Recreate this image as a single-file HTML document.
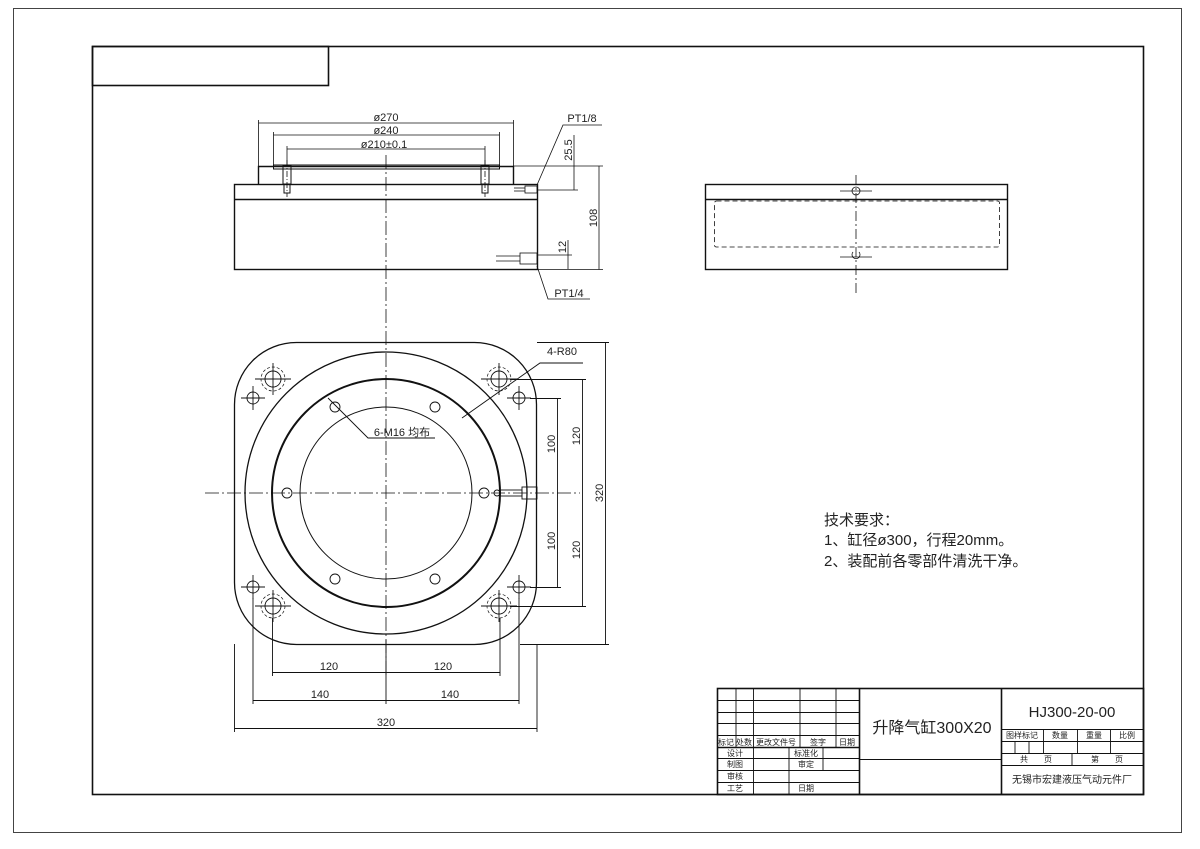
<!DOCTYPE html>
<html><head><meta charset="utf-8"><style>
html,body{margin:0;padding:0;background:#fff}
svg{display:block}
text{font-family:"Liberation Sans","Noto Sans CJK SC",sans-serif;fill:#222}
</style></head><body>
<svg width="1200" height="849" viewBox="0 0 1200 849" xmlns="http://www.w3.org/2000/svg">
<g fill="none" stroke="#111">
<rect x="13.5" y="8.5" width="1168" height="824" stroke="#444" stroke-width="1"/>
<rect x="92.5" y="46.5" width="1051" height="748" stroke-width="1.6"/>
<rect x="92.5" y="46.5" width="236" height="39" stroke-width="1.6"/>

<g stroke-width="1.4">
<rect x="234.5" y="184.5" width="303" height="85"/>
<line x1="234.5" y1="199.5" x2="537.5" y2="199.5"/>
<polyline points="258.5,184.5 258.5,166.5 513.5,166.5 513.5,184.5"/>
<rect x="273.5" y="165" width="226" height="4" stroke-width="1"/>
<rect x="283" y="166" width="8" height="18" stroke-width="1"/>
<rect x="481" y="166" width="8" height="18" stroke-width="1"/>
<rect x="284" y="184" width="6" height="9" stroke-width="1"/>
<rect x="482" y="184" width="6" height="9" stroke-width="1"/>
</g>
<g stroke-width="0.8">
<line x1="287" y1="160" x2="287" y2="197" stroke-dasharray="6,2,1,2"/>
<line x1="485" y1="160" x2="485" y2="197" stroke-dasharray="6,2,1,2"/>
<rect x="525" y="186" width="12" height="7"/>
<line x1="514" y1="188" x2="525" y2="188"/><line x1="514" y1="191" x2="525" y2="191"/>
<rect x="520" y="253" width="17" height="11"/>
<line x1="496" y1="256" x2="520" y2="256"/><line x1="496" y1="261" x2="520" y2="261"/>
<line x1="258.5" y1="120" x2="258.5" y2="166"/><line x1="513.5" y1="120" x2="513.5" y2="166"/>
<line x1="258.5" y1="123" x2="513.5" y2="123"/>
<line x1="273.5" y1="132" x2="273.5" y2="165"/><line x1="499.5" y1="132" x2="499.5" y2="165"/>
<line x1="273.5" y1="135" x2="499.5" y2="135"/>
<line x1="287" y1="146" x2="287" y2="166"/><line x1="485" y1="146" x2="485" y2="166"/>
<line x1="287" y1="149" x2="485" y2="149"/>
<line x1="513" y1="166" x2="603" y2="166"/><line x1="537" y1="269.5" x2="603" y2="269.5"/>
<line x1="599" y1="166" x2="599" y2="269.5"/>
<line x1="574" y1="135" x2="574" y2="190"/><line x1="537" y1="190" x2="578" y2="190"/>
<line x1="568" y1="240" x2="568" y2="269"/><line x1="537" y1="255" x2="572" y2="255"/>
<polyline points="537,185 563,125 602,125"/>
<polyline points="537,266 548,299 590,299"/>
<line x1="386" y1="155" x2="386" y2="675" stroke-dasharray="14,3,2,3"/>
<line x1="205" y1="493" x2="580" y2="493" stroke-dasharray="14,3,2,3"/>
</g>

<g stroke-width="1.4">
<rect x="705.5" y="184.5" width="302" height="85"/>
<line x1="705.5" y1="199.5" x2="1007.5" y2="199.5"/>
</g>
<g stroke-width="0.8">
<rect x="714.5" y="201" width="285" height="46" rx="2" stroke-dasharray="5,3"/>
<line x1="856" y1="175" x2="856" y2="295" stroke-dasharray="10,3,2,3"/>
<line x1="840" y1="191" x2="872" y2="191"/><circle cx="856" cy="191" r="4"/>
<line x1="840" y1="257" x2="872" y2="257"/><path d="M853 252 a4 4 0 1 0 6 0"/>
</g>

<g stroke-width="1.3">
<rect x="234.5" y="342.5" width="302" height="302" rx="62"/>
<circle cx="386" cy="493" r="141"/>
<circle cx="386" cy="493" r="114" stroke-width="2"/>
<circle cx="386" cy="493" r="86" stroke-width="1"/>
</g>
<g stroke-width="0.9">
<g transform="translate(273,379)"><circle r="8"/><circle r="12" stroke-dasharray="3,2" stroke-width="0.7"/><line x1="-18" x2="18"/><line y1="-16" y2="16"/></g>
<g transform="translate(499,379)"><circle r="8"/><circle r="12" stroke-dasharray="3,2" stroke-width="0.7"/><line x1="-18" x2="18"/><line y1="-16" y2="16"/></g>
<g transform="translate(273,606)"><circle r="8"/><circle r="12" stroke-dasharray="3,2" stroke-width="0.7"/><line x1="-18" x2="18"/><line y1="-16" y2="16"/></g>
<g transform="translate(499,606)"><circle r="8"/><circle r="12" stroke-dasharray="3,2" stroke-width="0.7"/><line x1="-18" x2="18"/><line y1="-16" y2="16"/></g>
<g transform="translate(253,398)"><circle r="6"/><line x1="-12" x2="12"/><line y1="-12" y2="12"/></g>
<g transform="translate(519,398)"><circle r="6"/><line x1="-12" x2="12"/><line y1="-12" y2="12"/></g>
<g transform="translate(253,587)"><circle r="6"/><line x1="-12" x2="12"/><line y1="-12" y2="12"/></g>
<g transform="translate(519,587)"><circle r="6"/><line x1="-12" x2="12"/><line y1="-12" y2="12"/></g>
<circle cx="335" cy="407" r="5"/><circle cx="435" cy="407" r="5"/>
<circle cx="287" cy="493" r="5"/><circle cx="484" cy="493" r="5"/>
<circle cx="335" cy="579" r="5"/><circle cx="435" cy="579" r="5"/>
<circle cx="497" cy="493" r="3"/>
<rect x="500" y="490" width="22" height="6"/><rect x="522" y="487" width="15" height="12"/>
<polyline points="328,398 368,438 435,438"/>
<polyline points="462,418 540,363 583,363"/>
<line x1="234.5" y1="644" x2="234.5" y2="732"/><line x1="537" y1="644" x2="537" y2="732"/>
<line x1="234.5" y1="728.5" x2="537" y2="728.5"/>
<line x1="253" y1="598" x2="253" y2="704"/><line x1="519" y1="598" x2="519" y2="704"/>
<line x1="253" y1="700.5" x2="519" y2="700.5"/>
<line x1="272.5" y1="618" x2="272.5" y2="676"/><line x1="500" y1="618" x2="500" y2="676"/>
<line x1="272.5" y1="672.5" x2="500" y2="672.5"/>
<line x1="386" y1="640" x2="386" y2="704"/>
<line x1="537" y1="342.5" x2="609" y2="342.5"/><line x1="520" y1="644.5" x2="609" y2="644.5"/>
<line x1="605.5" y1="342.5" x2="605.5" y2="644.5"/>
<line x1="510" y1="379.5" x2="586" y2="379.5"/><line x1="510" y1="606.5" x2="586" y2="606.5"/>
<line x1="582.5" y1="379.5" x2="582.5" y2="606.5"/>
<line x1="530" y1="398.5" x2="561" y2="398.5"/><line x1="530" y1="587.5" x2="561" y2="587.5"/>
<line x1="557.5" y1="398.5" x2="557.5" y2="587.5"/>
</g>

<g stroke-width="1.6">
<rect x="717.5" y="688.5" width="426" height="106"/>
<line x1="859.5" y1="688" x2="859.5" y2="794"/>
<line x1="1001.5" y1="688" x2="1001.5" y2="794"/>
</g>
<g stroke-width="0.9">
<line x1="717" y1="700.5" x2="859" y2="700.5"/><line x1="717" y1="712.5" x2="859" y2="712.5"/>
<line x1="717" y1="723.5" x2="859" y2="723.5"/><line x1="717" y1="735.5" x2="859" y2="735.5"/>
<line x1="717" y1="747.5" x2="859" y2="747.5" stroke-width="1.4"/><line x1="717" y1="758.5" x2="859" y2="758.5"/>
<line x1="717" y1="770.5" x2="859" y2="770.5"/><line x1="717" y1="782.5" x2="859" y2="782.5"/>
<line x1="736" y1="688" x2="736" y2="747"/><line x1="753.5" y1="688" x2="753.5" y2="794"/>
<line x1="800" y1="688" x2="800" y2="747"/><line x1="836" y1="688" x2="836" y2="747"/>
<line x1="789" y1="747" x2="789" y2="794"/><line x1="823" y1="747" x2="823" y2="770"/>
<line x1="859" y1="759.5" x2="1001" y2="759.5"/>
<line x1="1001" y1="729.5" x2="1143" y2="729.5"/><line x1="1001" y1="741.5" x2="1143" y2="741.5"/>
<line x1="1001" y1="753.5" x2="1143" y2="753.5"/><line x1="1001" y1="765.5" x2="1143" y2="765.5"/>
<line x1="1043.5" y1="729" x2="1043.5" y2="753"/><line x1="1077.5" y1="729" x2="1077.5" y2="753"/>
<line x1="1110.5" y1="729" x2="1110.5" y2="753"/>
<line x1="1015" y1="741" x2="1015" y2="753"/><line x1="1029" y1="741" x2="1029" y2="753"/>
<line x1="1072" y1="753" x2="1072" y2="765"/>
</g>
</g>

<g font-size="11" text-anchor="middle">
<text x="386" y="121">ø270</text>
<text x="386" y="134">ø240</text>
<text x="384" y="148">ø210±0.1</text>
<text x="582" y="122">PT1/8</text>
<text x="569" y="297">PT1/4</text>
<text x="562" y="355">4-R80</text>
<text x="402" y="436">6-M16 均布</text>
<text x="329" y="670">120</text>
<text x="443" y="670">120</text>
<text x="320" y="698">140</text>
<text x="450" y="698">140</text>
<text x="386" y="726">320</text>
</g>
<g font-size="11" text-anchor="middle">
<text transform="translate(597,218) rotate(-90)">108</text>
<text transform="translate(572,150) rotate(-90)">25.5</text>
<text transform="translate(566,247) rotate(-90)">12</text>
<text transform="translate(603,493) rotate(-90)">320</text>
<text transform="translate(580,436) rotate(-90)">120</text>
<text transform="translate(580,550) rotate(-90)">120</text>
<text transform="translate(555,444) rotate(-90)">100</text>
<text transform="translate(555,541) rotate(-90)">100</text>
</g>
<g font-size="15">
<text x="824" y="525">技术要求：</text>
<text x="824" y="545">1、缸径ø300，行程20mm。</text>
<text x="824" y="566">2、装配前各零部件清洗干净。</text>
</g>
<text x="932" y="733" font-size="16" text-anchor="middle" font-family="Liberation Serif,Noto Serif CJK SC,serif">升降气缸300X20</text>
<text x="1072" y="717" font-size="15" text-anchor="middle">HJ300-20-00</text>
<g font-size="8" text-anchor="middle">
<text x="726" y="745">标记</text><text x="744" y="745">处数</text><text x="776" y="745">更改文件号</text>
<text x="818" y="745">签字</text><text x="847" y="745">日期</text>
<text x="735" y="756">设计</text><text x="806" y="756">标准化</text>
<text x="735" y="767">制图</text><text x="806" y="767">审定</text>
<text x="735" y="779">审核</text>
<text x="735" y="791">工艺</text><text x="806" y="791">日期</text>
<text x="1022" y="738">图样标记</text><text x="1060" y="738">数量</text>
<text x="1094" y="738">重量</text><text x="1127" y="738">比例</text>
<text x="1036" y="762">共　　页</text><text x="1107" y="762">第　　页</text>
</g>
<text x="1072" y="783" font-size="10" text-anchor="middle">无锡市宏建液压气动元件厂</text>
</svg>
</body></html>
